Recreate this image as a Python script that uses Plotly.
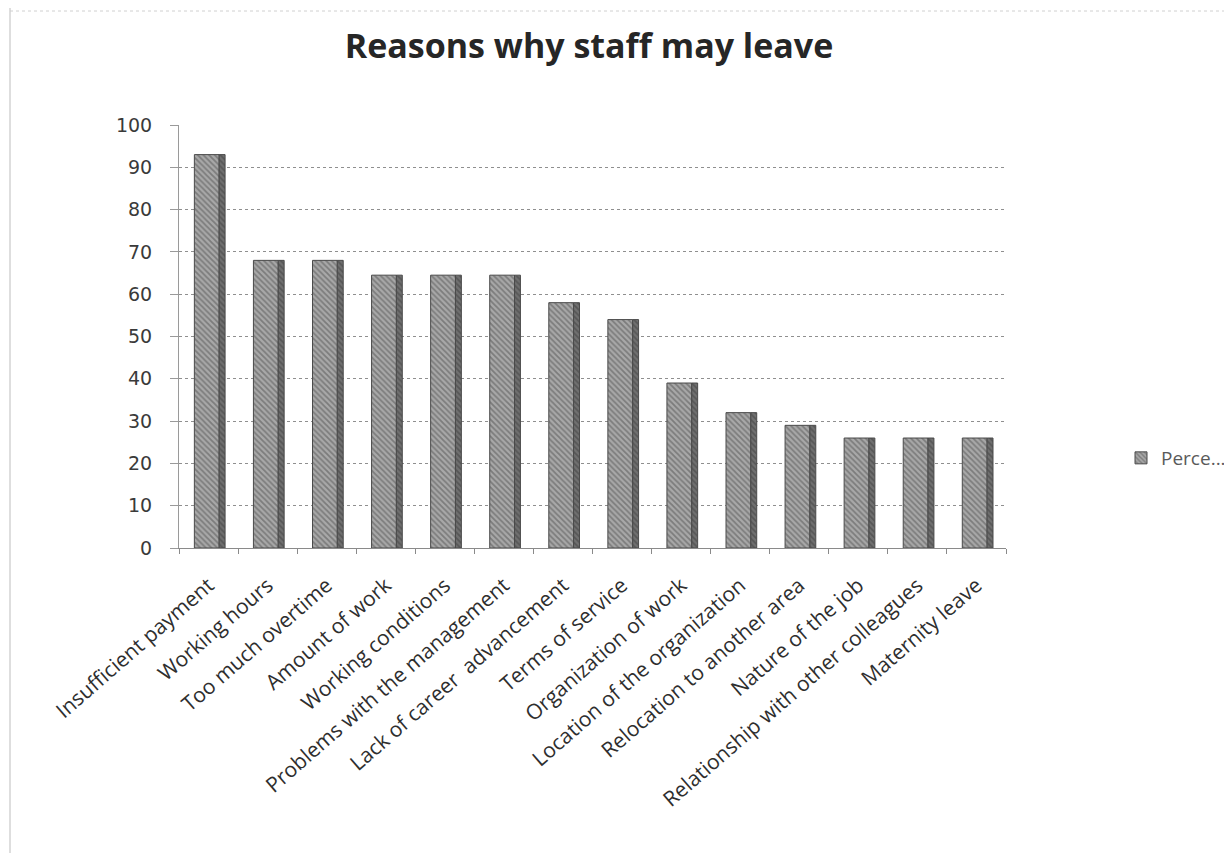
import plotly.graph_objects as go

categories = [
    "Insufficient payment", "Working hours", "Too much overtime", "Amount of work",
    "Working conditions", "Problems with the management", "Lack of career  advancement",
    "Terms of service", "Organization of work", "Location of the organization",
    "Relocation to another area", "Nature of the job", "Relationship with other colleagues",
    "Maternity leave",
]
values = [93, 68, 68, 64.5, 64.5, 64.5, 58, 54, 39, 32, 29, 26, 26, 26]
series_name = "Perce..."
y_ticks = [0, 10, 20, 30, 40, 50, 60, 70, 80, 90, 100]

# page body adds an 8px offset; margins below are in figure pixels
L, R, T, B = 171, 234, 117, 313
W = 1232 - L - R
H = 853 - T - B

fig = go.Figure()
# front face of each column
fig.add_trace(go.Bar(
    x=categories, y=values, name=series_name,
    width=0.42, offset=-0.24,
    marker=dict(
        color="#8c8c8c",
        line=dict(color="#4a4a4a", width=1),
        pattern=dict(shape="\\", fgcolor="#4f4f4f", bgcolor="#a8a8a8", size=4, solidity=0.45),
    ),
))
# darker right side face (3-D look) of the same columns
fig.add_trace(go.Bar(
    x=categories, y=values, name=series_name, showlegend=False, hoverinfo="skip",
    width=0.1, offset=0.18,
    marker=dict(
        color="#5e5e5e",
        line=dict(color="#4a4a4a", width=1),
        pattern=dict(shape="\\", fgcolor="#3c3c3c", bgcolor="#707070", size=4, solidity=0.45),
    ),
))

fig.update_layout(
    width=1232, height=853,
    paper_bgcolor="white", plot_bgcolor="white",
    margin=dict(l=L, r=R, t=T, b=B, autoexpand=False),
    barmode="overlay",
    title=dict(text="<b>Reasons why staff may leave</b>", x=581 / 1232, xanchor="center",
               y=1 - 38 / 853, yanchor="middle",
               font=dict(family="Open Sans", size=34, color="#262626")),
    showlegend=True,
    legend=dict(xref="container", yref="container", x=1113 / 1232, y=1 - 450 / 853,
                xanchor="left", yanchor="middle",
                font=dict(family="Open Sans", size=19, color="#5a5a5a"),
                itemwidth=30),
    font=dict(family="Open Sans", color="#333333"),
    shapes=[
        dict(type="line", xref="paper", yref="paper",
             x0=(2 - L) / W, x1=(2 - L) / W, y0=-B / H, y1=1 + T / H,
             line=dict(color="#bdbdbd", width=1)),
        dict(type="line", xref="paper", yref="paper",
             x0=(2 - L) / W, x1=(1232 - L) / W, y0=1 + (T - 3) / H, y1=1 + (T - 3) / H,
             line=dict(color="#d0d0d0", width=1, dash="dot")),
    ],
)
fig.update_xaxes(
    automargin=False,
    tickangle=-41, tickfont=dict(family="Open Sans", size=21, color="#2e2e2e"),
    showline=True, linecolor="#8a8a8a", linewidth=1,
    ticks="outside", tickson="boundaries", ticklen=5, tickcolor="#8a8a8a",
    ticklabelstandoff=16,
    showgrid=False,
)
fig.update_yaxes(
    automargin=False,
    range=[0, 100], tickvals=y_ticks,
    tickfont=dict(family="DejaVu Sans", size=19, color="#3a3a3a"),
    showgrid=True, gridcolor="#8f8f8f", griddash="dot", gridwidth=1,
    showline=True, linecolor="#9a9a9a", ticks="outside", ticklen=8, tickcolor="#9a9a9a",
    ticklabelstandoff=14,
    zeroline=False,
)
fig.write_html("out.html")
